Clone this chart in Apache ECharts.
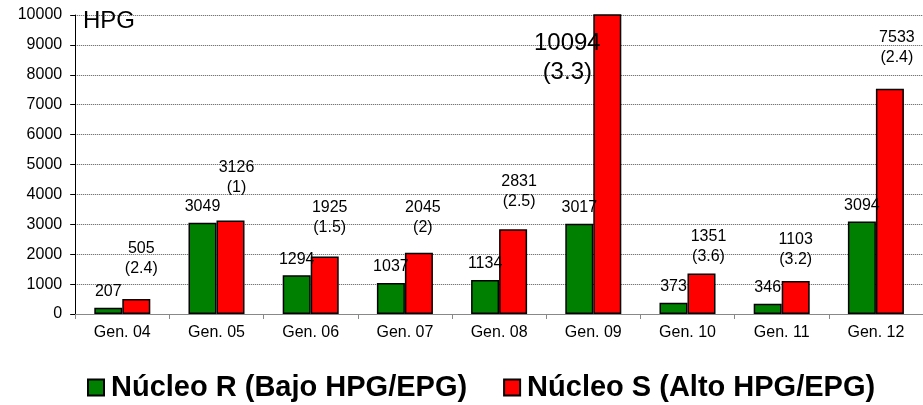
<!DOCTYPE html>
<html>
<head>
<meta charset="utf-8">
<script src="https://cdn.jsdelivr.net/npm/echarts@6/dist/echarts.min.js"></script>
<style>
  html, body { margin: 0; padding: 0; background: #fff; }
  #chart { width: 923px; height: 405px; }
</style>
</head>
<body>
<div id="chart"></div>
<script>
// Generations on the x axis
const categories = ['Gen. 04', 'Gen. 05', 'Gen. 06', 'Gen. 07', 'Gen. 08', 'Gen. 09', 'Gen. 10', 'Gen. 11', 'Gen. 12'];
// HPG per nucleus
const nucleoR = [207, 3049, 1294, 1037, 1134, 3017, 373, 346, 3094];
const nucleoS = [505, 3126, 1925, 2045, 2831, 10094, 1351, 1103, 7533];
// S / R ratio shown under each S value
const ratioSR = ['2.4', '1', '1.5', '2', '2.5', '3.3', '3.6', '3.2', '2.4'];
// Y axis ticks
const yTicks = [0, 1000, 2000, 3000, 4000, 5000, 6000, 7000, 8000, 9000, 10000];

// Hand placement of the two-line S labels: [x nudge, gap above bar]
const sLabelPlace = [[5, 20], [6, 23], [5, 19], [4, 15], [6, 18], null, [7, 7], [0, 11], [7, 21]];

const FONT = '"Liberation Sans", Arial, sans-serif';
const yMax = yTicks[yTicks.length - 1];

const sData = nucleoS.map((v, i) => {
  const place = sLabelPlace[i];
  if (v > yMax) {
    // Bar runs past the top of the axis: big label set beside it
    return {
      value: v,
      label: {
        position: [-26, 15],
        align: 'center',
        verticalAlign: 'top',
        fontSize: 24,
        lineHeight: 29
      }
    };
  }
  return {
    value: v,
    label: { distance: place[1], offset: [place[0], 0] }
  };
});

const chart = echarts.init(document.getElementById('chart'), null, { renderer: 'canvas' });
chart.setOption({
  animation: false,
  textStyle: { fontFamily: FONT },
  title: {
    text: 'HPG',
    left: 83,
    top: 9,
    padding: 0,
    textStyle: { fontFamily: FONT, fontSize: 24, fontWeight: 'normal', color: '#000' }
  },
  legend: {
    left: 87,
    top: 373,
    padding: 0,
    icon: 'rect',
    itemWidth: 16,
    itemHeight: 16,
    itemGap: 36,
    textStyle: { fontFamily: FONT, fontSize: 29, fontWeight: 'bold', color: '#000', padding: [0, 0, 0, 2] },
    data: ['Núcleo R (Bajo HPG/EPG)', 'Núcleo S (Alto HPG/EPG)']
  },
  grid: { left: 75.2, right: -5, top: 15, bottom: 91, containLabel: false },
  xAxis: {
    type: 'category',
    data: categories,
    axisLine: { lineStyle: { color: '#888', width: 1 } },
    axisTick: { show: true, length: 5, lineStyle: { color: '#888' } },
    axisLabel: { fontFamily: FONT, fontSize: 16, color: '#000', margin: 11 }
  },
  yAxis: {
    type: 'value',
    min: yTicks[0],
    max: yMax,
    interval: yTicks[1] - yTicks[0],
    axisLine: { show: true, lineStyle: { color: '#000', width: 1 } },
    axisTick: { show: true, length: 5, lineStyle: { color: '#000' } },
    axisLabel: { fontFamily: FONT, fontSize: 16, color: '#000', margin: 13, formatter: v => String(v) },
    splitLine: { show: true, lineStyle: { color: '#555', type: [1, 1], width: 1 } }
  },
  series: [
    {
      name: 'Núcleo R (Bajo HPG/EPG)',
      type: 'bar',
      data: nucleoR,
      barWidth: 28,
      barGap: '0%',
      itemStyle: { color: '#008000', borderColor: '#000', borderWidth: 1.5 },
      label: {
        show: true,
        position: 'top',
        distance: 8,
        fontFamily: FONT,
        fontSize: 16,
        lineHeight: 16,
        color: '#000'
      }
    },
    {
      name: 'Núcleo S (Alto HPG/EPG)',
      type: 'bar',
      data: sData,
      barWidth: 28,
      barGap: '0%',
      itemStyle: { color: '#ff0000', borderColor: '#000', borderWidth: 1.5 },
      label: {
        show: true,
        position: 'top',
        fontFamily: FONT,
        fontSize: 16,
        lineHeight: 20,
        align: 'center',
        color: '#000',
        formatter: p => p.value + '\n(' + ratioSR[p.dataIndex] + ')'
      }
    }
  ]
});
</script>
</body>
</html>
